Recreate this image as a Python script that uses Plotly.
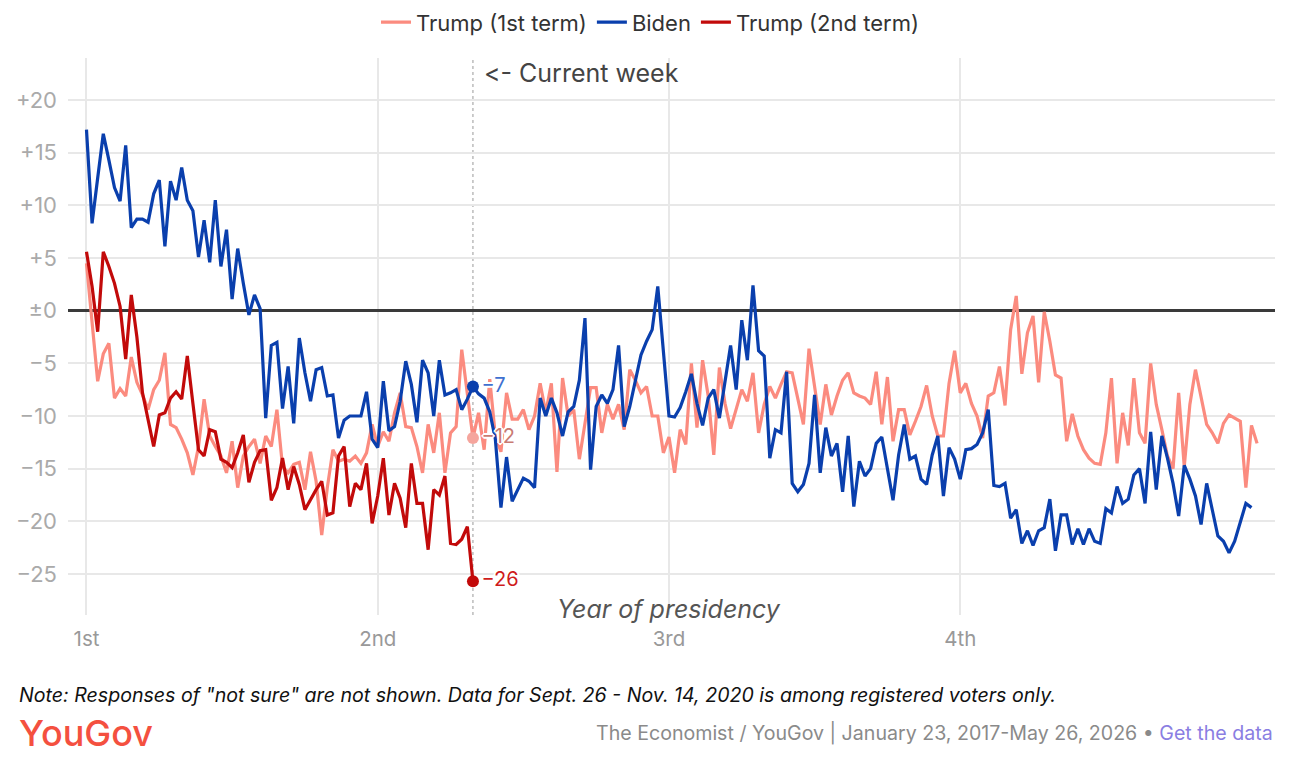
import plotly.graph_objects as go

# ---------------- data (weekly net approval, by week of presidency) ----------------
year_ticks = [0, 52, 104, 156]
year_labels = ["1st", "2nd", "3rd", "4th"]
y_ticks = [20, 15, 10, 5, 0, -5, -10, -15, -20, -25]
y_tick_labels = ["+20", "+15", "+10", "+5", "±0", "−5", "−10", "−15", "−20", "−25"]

trump_1st = [
    4.5, -1.0, -6.7, -4.1, -3.1, -8.3, -7.4, -8.1, -4.4, -6.8,
    -8.0, -9.4, -7.5, -6.6, -4.0, -10.8, -11.1, -12.2, -13.5, -15.6,
    -12.9, -8.4, -11.9, -12.9, -13.8, -15.4, -12.4, -16.8, -13.8, -12.9,
    -12.2, -14.5, -11.9, -12.9, -9.4, -14.8, -15.4, -14.6, -14.4, -17.0,
    -13.4, -16.2, -21.3, -16.8, -13.2, -14.3, -14.1, -14.3, -13.8, -14.5,
    -13.5, -10.8, -12.9, -11.5, -12.4, -9.7, -7.8, -11.0, -11.1, -12.9,
    -15.4, -10.8, -13.5, -9.7, -15.4, -11.6, -11.0, -3.7, -7.8, -12.1,
    -9.7, -13.2, -6.5, -11.9, -13.4, -7.8, -10.3, -10.3, -9.4, -11.3,
    -10.0, -6.9, -9.7, -6.9, -15.3, -6.4, -10.0, -9.4, -14.1, -10.5,
    -7.3, -7.3, -11.6, -8.9, -10.3, -8.9, -11.3, -5.6, -6.6, -7.8,
    -7.2, -10.0, -10.0, -13.5, -12.0, -15.4, -11.3, -12.7, -5.0, -11.1,
    -4.7, -8.1, -13.7, -5.4, -8.8, -11.2, -9.4, -7.5, -8.6, -5.9,
    -11.6, -8.9, -7.2, -8.3, -7.0, -5.8, -5.9, -8.4, -10.8, -3.6,
    -7.2, -10.8, -7.0, -9.9, -8.1, -6.6, -5.9, -7.8, -8.1, -8.3,
    -8.9, -5.8, -10.8, -6.3, -12.4, -9.4, -9.4, -11.8, -10.5, -9.1,
    -7.1, -10.0, -11.9, -11.9, -6.9, -3.8, -7.8, -6.9, -8.8, -10.0,
    -12.1, -8.1, -7.8, -5.3, -9.0, -1.8, 1.4, -6.0, -2.1, -0.5,
    -6.8, -0.1, -2.9, -6.1, -6.4, -12.4, -9.8, -11.9, -13.2, -14.0,
    -14.5, -14.6, -11.6, -6.4, -14.5, -9.7, -12.8, -6.4, -11.6, -12.6,
    -5.0, -8.9, -11.3, -13.8, -15.0, -7.8, -14.8, -8.9, -5.6, -8.4,
    -10.8, -11.6, -12.6, -10.7, -9.9, -10.2, -10.5, -16.8, -10.9, -12.6,
]

biden = [
    17.2, 8.3, 12.6, 16.8, 14.3, 11.7, 10.4, 15.7, 7.9, 8.7,
    8.7, 8.4, 11.1, 12.4, 6.1, 12.3, 10.5, 13.6, 10.5, 9.5,
    5.1, 8.6, 4.6, 10.5, 4.2, 7.7, 1.1, 5.9, 2.6, -0.4,
    1.5, 0.2, -10.2, -3.3, -3.0, -9.3, -5.3, -10.7, -2.6, -5.9,
    -8.6, -5.6, -5.4, -8.1, -8.0, -12.1, -10.4, -10.0, -10.0, -10.0,
    -7.7, -12.2, -13.0, -6.7, -11.4, -11.0, -8.6, -4.8, -7.0, -10.6,
    -4.7, -5.9, -10.0, -4.7, -8.0, -7.8, -7.5, -9.4, -8.4, -7.2,
    -7.9, -8.3, -9.6, -12.2, -18.7, -13.9, -18.1, -17.0, -15.9, -16.2,
    -16.8, -8.3, -10.0, -8.3, -9.7, -11.9, -9.6, -9.1, -6.6, -0.7,
    -15.1, -9.1, -8.0, -8.8, -7.5, -3.3, -11.0, -9.1, -6.6, -4.2,
    -2.9, -1.8, 2.3, -4.0, -10.0, -10.1, -9.2, -7.7, -6.0, -8.8,
    -10.9, -8.3, -7.5, -10.2, -6.6, -3.3, -7.5, -0.9, -4.7, 2.4,
    -3.8, -4.3, -14.0, -11.3, -11.6, -5.8, -16.4, -17.2, -16.5, -14.5,
    -8.0, -15.4, -11.1, -13.8, -12.6, -17.2, -11.9, -18.6, -14.3, -15.7,
    -15.0, -12.6, -12.0, -15.1, -18.0, -13.7, -10.8, -14.1, -13.8, -16.0,
    -16.5, -13.7, -11.9, -17.6, -13.0, -14.1, -16.0, -13.2, -13.1, -12.7,
    -11.6, -9.4, -16.6, -16.7, -16.4, -19.7, -18.9, -22.1, -20.9, -22.3,
    -20.9, -20.6, -17.9, -22.8, -19.4, -19.4, -22.2, -20.7, -22.2, -20.7,
    -21.9, -22.1, -18.8, -19.2, -16.7, -18.3, -17.9, -15.6, -15.0, -18.3,
    -11.5, -17.0, -11.9, -14.0, -16.4, -19.5, -14.7, -16.0, -17.6, -20.3,
    -16.4, -18.9, -21.4, -21.9, -23.0, -21.9, -20.0, -18.3, -18.7,
]

trump_2nd = [
    5.6, 2.3, -2.0, 5.6, 4.2, 2.6, 0.4, -4.6, 1.5, -2.5,
    -7.8, -10.3, -12.9, -9.9, -9.7, -8.3, -7.7, -8.4, -4.3, -8.8,
    -13.2, -13.8, -11.3, -11.5, -14.1, -14.4, -14.9, -13.5, -11.8, -16.3,
    -14.4, -13.3, -13.2, -18.0, -16.8, -14.0, -17.0, -14.8, -16.5, -18.9,
    -17.9, -17.0, -16.2, -19.4, -19.2, -13.8, -12.9, -18.6, -16.4, -17.0,
    -14.5, -20.2, -17.6, -14.0, -19.4, -16.4, -17.8, -20.6, -14.5, -18.3,
    -18.3, -22.7, -17.0, -17.5, -15.7, -22.1, -22.2, -21.7, -20.5, -25.7,
]

# ---------------- styling ----------------
FONT = "Inter"
C_T1 = "#fb8b7f"
C_BIDEN = "#0a3fad"
C_T2 = "#c20a0a"
HALO = ("-2px 0 0 #fff, 2px 0 0 #fff, 0 -2px 0 #fff, 0 2px 0 #fff, "
        "-1px -1px 0 #fff, 1px -1px 0 #fff, -1px 1px 0 #fff, 1px 1px 0 #fff")

cur = len(trump_2nd) - 1  # current week index

fig = go.Figure()

series = [
    ("Trump (1st term)", trump_1st, C_T1, "#f5a59d", "#c97a72"),
    ("Biden", biden, C_BIDEN, C_BIDEN, "#3f70d0"),
    ("Trump (2nd term)", trump_2nd, C_T2, C_T2, "#cf1c1c"),
]

for name, vals, col, dotcol, labcol in series:
    fig.add_trace(go.Scatter(
        x=list(range(len(vals))), y=vals, mode="lines", name=name,
        line=dict(color=col, width=3.2), hoverinfo="skip",
    ))

# dots + value labels at the current week
for name, vals, col, dotcol, labcol in series:
    v = vals[cur]
    fig.add_trace(go.Scatter(
        x=[cur], y=[v], mode="markers+text", showlegend=False,
        marker=dict(color=dotcol, size=12),
        text=["−%d" % abs(round(v))], textposition="middle right",
        textfont=dict(family=FONT, size=20, color=labcol, shadow=HALO),
        hoverinfo="skip",
    ))

# current week marker line + label
fig.add_shape(type="line", x0=cur, x1=cur, xref="x", y0=0, y1=1, yref="paper",
              line=dict(color="#9a9a9a", width=1, dash="3px,3px"), layer="below")
fig.add_annotation(x=cur, y=0.973, xref="x", yref="paper", text="<\u200c- Current week",
                   showarrow=False, xanchor="left", yanchor="middle", xshift=9,
                   font=dict(family=FONT, size=25, color="#444"))

# axis title inside plot
fig.add_annotation(x=year_ticks[2], y=0.011, xref="x", yref="paper",
                   text="<i>Year of presidency</i>", showarrow=False,
                   xanchor="center", yanchor="middle",
                   font=dict(family=FONT, size=25, color="#555"))

# footer
fig.add_annotation(x=-0.0423, y=-0.1436, xref="paper", yref="paper",
                   text="<i>Note: Responses of \"not sure\" are not shown. Data for Sept. 26 - Nov. 14, 2020 is among registered voters only.</i>",
                   showarrow=False, xanchor="left", yanchor="middle",
                   font=dict(family=FONT, size=19.6, color="#111"))
fig.add_annotation(x=-0.0423, y=-0.2118, xref="paper", yref="paper",
                   text="YouGov", showarrow=False, xanchor="left", yanchor="middle",
                   font=dict(family=FONT, size=36, color="#f4503f", weight=500))
fig.add_annotation(x=1.0, y=-0.2118, xref="paper", yref="paper",
                   text="The Economist / YouGov | January 23, 2017-May 26, 2026 • "
                        "<span style='color:#8a7ee2'>Get the data</span>",
                   showarrow=False, xanchor="right", yanchor="middle",
                   font=dict(family=FONT, size=19.6, color="#8a8a8a"))

fig.update_layout(
    width=1300, height=770,
    margin=dict(l=68, r=25, t=58, b=155),
    paper_bgcolor="white", plot_bgcolor="white",
    font=dict(family=FONT, color="#333"),
    showlegend=True,
    legend=dict(orientation="h", xref="container", yref="container",
                x=0.5, xanchor="center", y=0.971, yanchor="middle",
                font=dict(family=FONT, size=22, color="#333"),
                itemwidth=30, traceorder="normal"),
    xaxis=dict(range=[-3.3, 212.2], tickvals=year_ticks, ticktext=year_labels,
               showgrid=True, gridcolor="#e8e8e8", gridwidth=2,
               zeroline=False, showline=False, ticks="",
               tickfont=dict(family=FONT, size=20.5, color="#999"),
               ticklabelstandoff=9, fixedrange=True),
    yaxis=dict(range=[-28.9, 24.0], tickvals=y_ticks, ticktext=y_tick_labels,
               showgrid=True, gridcolor="#e8e8e8", gridwidth=2,
               zeroline=True, zerolinecolor="#3a3a3a", zerolinewidth=2.5,
               showline=False, ticks="",
               tickfont=dict(family=FONT, size=22, color="#aaa"),
               ticklabelstandoff=10, fixedrange=True),
)

fig.write_html("out.html")
